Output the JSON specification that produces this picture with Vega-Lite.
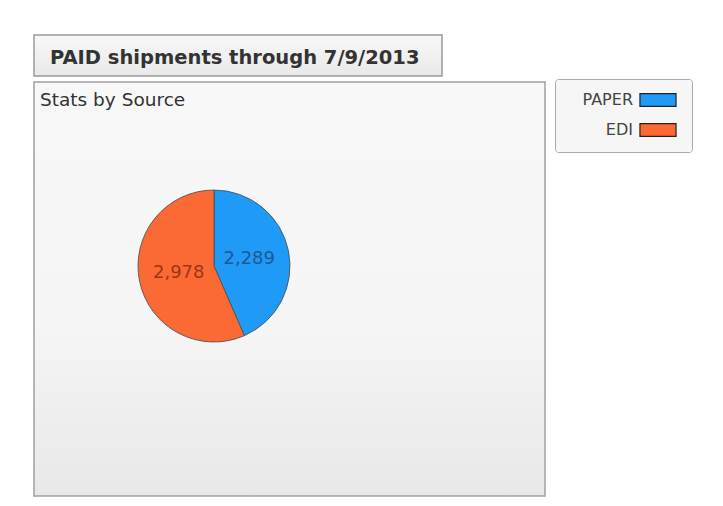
{
  "$schema": "https://vega.github.io/schema/vega-lite/v6.json",
  "background": "white",
  "padding": {"left": 33, "top": 34, "right": 5, "bottom": 5},
  "config": {
    "font": "DejaVu Sans",
    "concat": {"spacing": 0}
  },
  "vconcat": [
    {
      "width": 408,
      "height": 41,
      "view": {
        "fill": {"gradient": "linear", "x1": 0, "y1": 0, "x2": 0, "y2": 1,
          "stops": [{"offset": 0, "color": "#f8f8f8"}, {"offset": 1, "color": "#e9e9e9"}]},
        "stroke": "#9a9a9a",
        "strokeWidth": 1.5
      },
      "title": {
        "text": "PAID shipments through 7/9/2013",
        "anchor": "start",
        "frame": "group",
        "orient": "top",
        "offset": -48,
        "baseline": "alphabetic",
        "dx": 16,
        "fontSize": 19.5,
        "fontWeight": "bold",
        "font": "DejaVu Sans",
        "color": "#333333"
      },
      "data": {"values": [{"tab": "PAID shipments through 7/9/2013"}]},
      "mark": {"type": "rect", "opacity": 0},
      "encoding": {}
    },
    {
      "width": 511,
      "height": 414,
      "view": {
        "fill": {"gradient": "linear", "x1": 0, "y1": 0, "x2": 0, "y2": 1,
          "stops": [{"offset": 0, "color": "#f8f8f8"}, {"offset": 0.6, "color": "#f5f5f5"}, {"offset": 1, "color": "#e8e8e8"}]},
        "stroke": "#a0a0a0",
        "strokeWidth": 1.5
      },
      "title": {
        "text": "Stats by Source",
        "anchor": "start",
        "frame": "group",
        "orient": "top",
        "offset": -46,
        "baseline": "alphabetic",
        "dx": 6,
        "fontSize": 18.5,
        "fontWeight": "normal",
        "font": "DejaVu Sans",
        "color": "#333333"
      },
      "data": {"values": [
        {"source": "PAPER", "count": 2289},
        {"source": "EDI", "count": 2978}
      ]},
      "layer": [
        {
          "mark": {"type": "arc", "outerRadius": 76, "stroke": "#4a4a4a", "strokeWidth": 0.8, "xOffset": -75.5, "yOffset": -23},
          "encoding": {
            "theta": {"field": "count", "type": "quantitative", "stack": true},
            "order": {"field": "count", "sort": "ascending"},
            "color": {
              "field": "source", "type": "nominal",
              "scale": {"domain": ["PAPER", "EDI"], "range": ["#1f9bf7", "#fb6a35"]},
              "legend": {
                "orient": "none", "legendX": 521, "legendY": -3, "title": null,
                "symbolType": "M-2.8,-1H2.8V1H-2.8Z", "symbolSize": 166,
                "symbolStrokeColor": "#222222", "symbolStrokeWidth": 1.2, "symbolOpacity": 1,
                "labelAlign": "right", "symbolOffset": 82, "labelOffset": -33,
                "labelFontSize": 16, "labelFont": "DejaVu Sans", "labelColor": "#444444", "labelLimit": 200,
                "rowPadding": 12, "fillColor": "#f6f6f6", "strokeColor": "#aaaaaa",
                "padding": 13, "cornerRadius": 3
              }
            }
          }
        },
        {
          "mark": {"type": "text", "radius": 36, "fontSize": 18, "font": "DejaVu Sans", "xOffset": -75.5, "yOffset": -23, "align": "center", "baseline": "middle"},
          "encoding": {
            "theta": {"field": "count", "type": "quantitative", "stack": true},
            "order": {"field": "count", "sort": "ascending"},
            "text": {"field": "count", "type": "quantitative", "format": ","},
            "color": {
              "field": "source", "type": "nominal",
              "scale": {"domain": ["PAPER", "EDI"], "range": ["#1c5a96", "#9e3516"]},
              "legend": null
            }
          }
        }
      ],
      "resolve": {"scale": {"color": "independent"}}
    }
  ]
}
